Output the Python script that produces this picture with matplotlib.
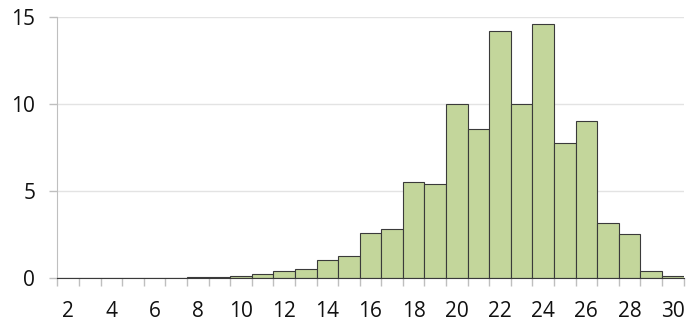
import matplotlib.pyplot as plt
import numpy as np

plt.rcParams['font.family'] = ['Open Sans', 'DejaVu Sans']

# categories 2..30 and bar heights
kategorie = list(range(2, 31))
wartosci = [0, 0, 0, 0, 0, 0,
            0.07, 0.1, 0.15, 0.23, 0.4, 0.52, 1.05, 1.26,
            2.58, 2.82, 5.52, 5.44, 10.0, 8.56, 14.2, 10.02,
            14.6, 7.76, 9.02, 3.16, 2.53, 0.4, 0.13]
etykiety_x = list(range(2, 31, 2))
etykiety_y = [0, 5, 10, 15]

fig = plt.figure(figsize=(6.97, 3.22), dpi=100)
ax = fig.add_axes([57.5 / 697, 1 - 278.3 / 322, (683.5 - 57.5) / 697, (278.3 - 17.3) / 322])

ax.bar(kategorie, wartosci, width=1.0, color="#C3D69B", edgecolor="#3a3a3a",
       linewidth=0.8, zorder=3)

ax.set_xlim(1.5, 30.5)
ax.set_ylim(0, 15)

# tick marks between categories, labels on every second category
ax.set_xticks(np.arange(1.5, 31, 1.0))
ax.set_xticklabels([])
ax.set_xticks(etykiety_x, minor=True)
ax.set_xticklabels([str(v) for v in etykiety_x], minor=True)
ax.tick_params(axis="x", which="major", length=6, width=1, color="#BFBFBF")
ax.tick_params(axis="x", which="minor", length=0, pad=16, labelsize=15, labelcolor="#111111")

ax.set_yticks(etykiety_y)
ax.tick_params(axis="y", length=6, width=1, color="#BFBFBF", pad=10,
               labelsize=15, labelcolor="#111111")

ax.grid(True, axis="y", color="#E3E3E3", linewidth=1, zorder=0)
for s in ["top", "right"]:
    ax.spines[s].set_visible(False)
ax.spines["left"].set_color("#BFBFBF")
ax.spines["bottom"].set_color("#3a3a3a")
ax.spines["bottom"].set_zorder(4)

plt.savefig("out.png", dpi=100)
